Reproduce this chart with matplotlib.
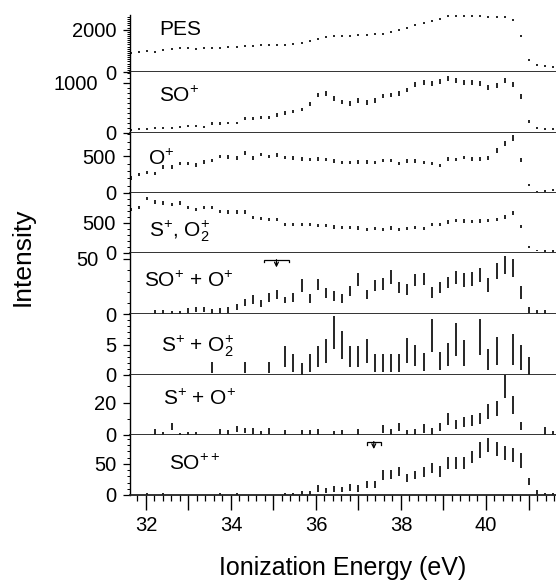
#!/usr/bin/env python3
"""
Coincidence yields of SO fragment channels vs. ionization energy.
Eight stacked panels sharing the energy axis, drawn as error bars.
"""

import numpy as np
import matplotlib
matplotlib.use("Agg")
import matplotlib.pyplot as plt
from matplotlib.ticker import MultipleLocator, FixedLocator, FuncFormatter
from matplotlib.transforms import ScaledTranslation

# ============================================================================
# data
# ============================================================================

ENERGY = [31.65, 31.84, 32.03, 32.22, 32.41, 32.61, 32.80, 32.99, 33.18, 33.37,
          33.56, 33.75, 33.94, 34.13, 34.32, 34.52, 34.71, 34.90, 35.09, 35.28,
          35.47, 35.66, 35.85, 36.04, 36.23, 36.43, 36.62, 36.81, 37.00, 37.19,
          37.38, 37.57, 37.76, 37.95, 38.14, 38.34, 38.53, 38.72, 38.91, 39.10,
          39.29, 39.48, 39.67, 39.86, 40.05, 40.25, 40.44, 40.63, 40.82, 41.01,
          41.20, 41.39, 41.58]

nan = float("nan")

PES = [896, 928, 975, 959, 1053, 1100, 1116, 1132, 1100, 1116,
       1132, 1148, 1179, 1179, 1211, 1211, 1258, 1274, 1289, 1289,
       1336, 1368, 1447, 1541, 1651, 1682, 1698, 1698, 1730, 1745,
       1777, 1808, 1887, 1965, 2091, 2201, 2311, 2390, 2500, 2642,
       2657, 2657, 2657, 2642, 2610, 2594, 2594, 2469, 1682, 550,
       314, 267, 236]
PES_ERR = 45

SO = [67, 73, 87, 107, 107, 100, 120, 133, 133, 120,
      187, 187, 200, 200, 287, 287, 307, 320, 360, 405,
      430, 470, 590, 760, 795, 690, 625, 587, 650, 615,
      655, 745, 760, 795, 860, 970, 1010, 990, 1030, 1100,
      1045, 1010, 1005, 1000, 905, 960, 1060, 970, 733, 225,
      95, 80, 85]
SO_ERR = [20, 20, 20, 20, 20, 20, 20, 20, 20, 20,
          25, 25, 25, 25, 30, 30, 30, 30, 35, 35,
          35, 35, 40, 45, 45, 45, 45, 45, 45, 45,
          45, 45, 45, 45, 45, 50, 50, 50, 50, 50,
          50, 50, 50, 50, 50, 50, 50, 50, 50, 30,
          20, 20, 20]

O = [205, 255, 277, 264, 355, 355, 400, 400, 386, 423,
     445, 500, 491, 477, 545, 477, 527, 500, 518, 482,
     477, 468, 459, 468, 459, 436, 414, 414, 423, 423,
     414, 445, 445, 400, 436, 436, 414, 400, 377, 468,
     459, 482, 468, 468, 477, 582, 682, 750, 450, 110,
     23, 27, 40]
O_ERR = [22, 22, 22, 22, 24, 24, 24, 24, 24, 24,
         24, 24, 24, 24, 24, 24, 24, 24, 24, 24,
         24, 24, 24, 24, 24, 24, 24, 24, 24, 24,
         24, 24, 24, 24, 24, 24, 24, 24, 24, 24,
         24, 24, 24, 24, 24, 30, 34, 36, 28, 15,
         10, 10, 10]

S_O2 = [722, 756, 906, 850, 833, 811, 833, 756, 722, 756,
        756, 694, 683, 683, 683, 589, 572, 561, 556, 472,
        478, 472, 472, 461, 461, 433, 422, 422, 417, 394,
        406, 389, 417, 389, 406, 422, 406, 472, 472, 517,
        544, 533, 528, 533, 544, 556, 600, 660, 440, 105,
        42, 33, 33]
S_O2_ERR = [28, 28, 30, 30, 30, 30, 30, 30, 30, 30,
            30, 30, 30, 30, 30, 30, 30, 30, 30, 30,
            30, 30, 30, 30, 30, 30, 30, 30, 30, 30,
            30, 30, 30, 30, 30, 30, 30, 30, 30, 30,
            30, 30, 30, 30, 30, 30, 32, 34, 30, 18,
            12, 12, 12]

SO_O = [nan, nan, nan, 1.8, 1.8, 1.2, 1.5, 3.3, 4.1, 4.1,
        2.3, 3.0, 3.3, 6.4, 10.6, 13.3, 9.4, 14.7, 17.4, 12.5,
        15.1, 25.7, 13.9, 26.4, 19.3, 16.2, 14.0, 20.3, 31.2, 17.6,
        25.8, 26.8, 33.6, 23.8, 22.1, 30.8, 31.7, 19.0, 24.0, 28.4,
        33.1, 30.7, 31.7, 35.3, 26.4, 38.8, 44.0, 41.6, 19.4, 3.7,
        1.6, 1.6, nan]
SO_O_ERR = [nan, nan, nan, 1.8, 1.8, 1.2, 1.5, 2.1, 2.6, 2.6,
            2.3, 2.4, 2.7, 2.7, 3.0, 4.2, 3.3, 4.1, 4.2, 3.0,
            4.1, 5.6, 4.2, 4.8, 4.5, 4.1, 4.2, 4.5, 5.8, 4.2,
            4.8, 5.3, 6.1, 4.7, 5.0, 5.3, 5.6, 5.0, 5.3, 5.3,
            6.1, 6.1, 6.1, 6.1, 6.5, 6.8, 7.9, 7.9, 5.6, 2.7,
            1.6, 1.6, nan]

S_O2_PAIR = [nan, nan, nan, nan, nan, nan, nan, nan, nan, nan,
             1.2, nan, nan, nan, 1.2, nan, nan, 1.2, nan, 3.0,
             2.0, 1.0, 2.0, 3.0, 3.9, 6.9, 4.9, 3.0, 3.0, 3.9,
             2.0, 2.0, 2.0, 2.0, 4.0, 3.2, 2.1, 6.4, 2.3, 3.4,
             5.8, 3.6, nan, 6.2, 2.6, 4.0, nan, 4.2, 2.9, 1.5,
             nan, nan, nan]
S_O2_PAIR_ERR = [nan, nan, nan, nan, nan, nan, nan, nan, nan, nan,
                 0.9, nan, nan, nan, 0.85, nan, nan, 0.85, nan, 1.7,
                 1.5, 1.0, 1.5, 1.7, 2.0, 2.7, 2.3, 1.7, 1.7, 2.0,
                 1.5, 1.5, 1.5, 1.5, 2.1, 1.8, 1.5, 2.7, 1.4, 1.9,
                 2.7, 2.1, nan, 2.9, 1.7, 2.3, nan, 2.5, 2.1, 1.5,
                 nan, nan, nan]

S_O = [nan, nan, nan, 1.75, 0.9, 5.4, 0.7, 0.9, 0.9, nan,
       nan, 2.2, 1.55, 3.7, 2.8, 2.5, 1.2, 2.5, nan, 1.55,
       nan, 1.55, 1.55, 1.75, nan, 1.2, 1.55, nan, 1.75, nan,
       nan, 3.7, 1.75, 4.9, 1.55, 1.75, 4.0, 2.3, 5.1, 9.7,
       6.4, 8.3, 8.9, 10.2, 14.3, 16.4, 30.0, 18.5, 5.4, nan,
       nan, 2.6, 1.2]
S_O_ERR = [nan, nan, nan, 1.75, 0.9, 2.3, 0.7, 0.9, 0.9, nan,
           nan, 1.75, 1.55, 1.9, 1.75, 2.1, 1.2, 2.1, nan, 1.55,
           nan, 1.55, 1.55, 1.75, nan, 1.2, 1.55, nan, 1.75, nan,
           nan, 2.3, 1.75, 2.4, 1.55, 1.75, 2.6, 2.3, 2.6, 3.7,
           2.9, 3.1, 3.3, 3.6, 4.6, 4.6, 7.0, 5.4, 2.5, nan,
           nan, 2.6, 1.2]

SO_PP = [nan, nan, 1.9, nan, 1.9, nan, nan, nan, nan, nan,
         nan, 1.5, nan, 1.5, nan, nan, nan, nan, nan, 1.5,
         1.9, 3.4, 3.0, 10.5, 7.8, 9.9, 9.4, 11.8, 10.5, 16.7,
         16.7, 32.0, 32.8, 37.9, 27.2, 32.0, 37.4, 43.5, 37.6, 51.3,
         51.3, 51.3, 61.0, 71.5, 80.0, 73.7, 67.2, 63.4, 55.6, 21.8,
         4.0, 1.9, 1.3]
SO_PP_ERR = [nan, nan, 1.9, nan, 1.9, nan, nan, nan, nan, nan,
             nan, 1.5, nan, 1.5, nan, nan, nan, nan, nan, 1.5,
             1.9, 3.4, 3.0, 5.1, 4.0, 4.6, 4.0, 5.4, 5.1, 5.9,
             5.9, 7.8, 7.5, 7.3, 6.2, 6.7, 7.8, 7.5, 8.1, 8.9,
             8.9, 8.9, 9.9, 12.9, 11.3, 10.8, 10.8, 11.3, 11.6, 6.2,
             4.0, 1.9, 1.3]

# resolution / threshold brackets: (left eV, right eV, level, arrow length, end tick)
SO_O_MARK = (34.78, 35.36, 49.0, 7.0, 2.3)
SO_PP_MARK = (37.19, 37.53, 85.5, 12.0, 5.0)

PANEL_LABELS = [
    "PES",
    r"$\mathrm{SO}^{+}$",
    r"$\mathrm{O}^{+}$",
    r"$\mathrm{S}^{+}$, $\mathrm{O}_{2}^{+}$",
    r"$\mathrm{SO}^{+}$ + $\mathrm{O}^{+}$",
    r"$\mathrm{S}^{+}$ + $\mathrm{O}_{2}^{+}$",
    r"$\mathrm{S}^{+}$ + $\mathrm{O}^{+}$",
    r"$\mathrm{SO}^{++}$",
]

# ============================================================================
# layout / style
# ============================================================================

FIG_SIZE = (5.56, 5.80)
DPI = 100
XLIM = (31.624, 41.647)
HEIGHT_RATIOS = [57, 61, 60, 60, 61, 61, 60, 60]

# per panel: ylim top, labelled ticks, minor step, label pos (axes frac), label shift (pt)
PANEL_CFG = [
    (2690, [0, 2000], 100, (0.068, 0.649), 0),
    (1220, [0, 1000], 100, (0.068, 0.513), 13),
    (820, [0, 500], 100, (0.042, 0.467), 0),
    (1000, [0, 500], 100, (0.044, 0.272), 0),
    (55, [0, 50], 10, (0.034, 0.448), 13),
    (10, [0, 5], 1, (0.073, 0.382), 0),
    (37, [0, 20], 10, (0.077, 0.500), 0),
    (96, [0, 50], 10, (0.092, 0.417), 0),
]

TICK_FONTSIZE = 14.5
PANEL_FONTSIZE = 15
LABEL_FONTSIZE = 18
BAR_LW = 1.2

plt.rcParams["font.family"] = ["Liberation Sans", "DejaVu Sans"]
plt.rcParams["mathtext.fontset"] = "custom"
plt.rcParams["mathtext.rm"] = "Liberation Sans"
plt.rcParams["mathtext.it"] = "Liberation Sans:italic"
plt.rcParams["mathtext.bf"] = "Liberation Sans:bold"


def draw_limit_mark(ax, mark):
    """horizontal bracket with a downward arrow from its centre"""
    x0, x1, level, arrow_len, tick = mark
    ax.plot([x0, x0, x1, x1], [level - tick, level, level, level - tick],
            color="black", lw=0.9, solid_joinstyle="miter")
    xc = 0.5 * (x0 + x1)
    ax.annotate("", xy=(xc, level - arrow_len), xytext=(xc, level),
                arrowprops=dict(arrowstyle="->", lw=0.9, color="black",
                                shrinkA=0, shrinkB=0, mutation_scale=7))


def main():
    series = [
        (PES, PES_ERR), (SO, SO_ERR), (O, O_ERR), (S_O2, S_O2_ERR),
        (SO_O, SO_O_ERR), (S_O2_PAIR, S_O2_PAIR_ERR), (S_O, S_O_ERR),
        (SO_PP, SO_PP_ERR),
    ]

    fig = plt.figure(figsize=FIG_SIZE, dpi=DPI)
    gs = fig.add_gridspec(len(series), 1, height_ratios=HEIGHT_RATIOS,
                          left=130 / 556, right=1.0,
                          top=1 - 15 / 580, bottom=1 - 495 / 580, hspace=0)

    x = np.array(ENERGY)
    axes = []
    for k, ((vals, errs), cfg) in enumerate(zip(series, PANEL_CFG)):
        ax = fig.add_subplot(gs[k, 0])
        axes.append(ax)
        ytop, majors, minor_step, label_pos, shift = cfg

        ax.errorbar(x, np.array(vals, dtype=float), yerr=errs, fmt="none",
                    ecolor="black", elinewidth=BAR_LW, capsize=0)

        ax.set_xlim(*XLIM)
        ax.set_ylim(0, ytop)

        for side in ("top", "right"):
            ax.spines[side].set_visible(False)
        ax.spines["left"].set_linewidth(1.0)
        ax.spines["bottom"].set_linewidth(1.3)
        ax.spines["bottom"].set_color("#222222")

        ax.yaxis.set_major_locator(FixedLocator(majors))
        ax.yaxis.set_minor_locator(MultipleLocator(minor_step))
        ax.tick_params(axis="y", which="major", direction="out", length=5,
                       width=0.9, pad=5, labelsize=TICK_FONTSIZE)
        ax.tick_params(axis="y", which="minor", direction="out", length=2.5,
                       width=0.7)

        # nudge the top label left where it would collide with the panel above
        if shift:
            fig.canvas.draw()
            lab = ax.get_yticklabels()[-1]
            lab.set_transform(lab.get_transform() +
                              ScaledTranslation(-shift / 72, 0, fig.dpi_scale_trans))

        ax.text(label_pos[0], label_pos[1], PANEL_LABELS[k], transform=ax.transAxes,
                fontsize=PANEL_FONTSIZE, ha="left", va="baseline")

        if k < len(series) - 1:
            ax.tick_params(axis="x", which="both", bottom=False, labelbottom=False)

    draw_limit_mark(axes[4], SO_O_MARK)
    draw_limit_mark(axes[7], SO_PP_MARK)

    bottom = axes[-1]
    bottom.xaxis.set_major_locator(MultipleLocator(1))
    bottom.xaxis.set_minor_locator(MultipleLocator(0.2))
    bottom.xaxis.set_major_formatter(
        FuncFormatter(lambda v, p: f"{v:.0f}" if round(v) % 2 == 0 else ""))
    bottom.tick_params(axis="x", which="major", direction="out", length=11,
                       width=1.0, pad=4, labelsize=TICK_FONTSIZE)
    bottom.tick_params(axis="x", which="minor", direction="out", length=4,
                       width=0.9)

    fig.text(0.040, 0.557, "Intensity", rotation=90, ha="center", va="center",
             fontsize=LABEL_FONTSIZE + 1)
    fig.text(0.616, 0.009, "Ionization Energy (eV)", ha="center", va="baseline",
             fontsize=LABEL_FONTSIZE)

    fig.savefig("out.png", dpi=DPI)
    plt.close(fig)


if __name__ == "__main__":
    main()
